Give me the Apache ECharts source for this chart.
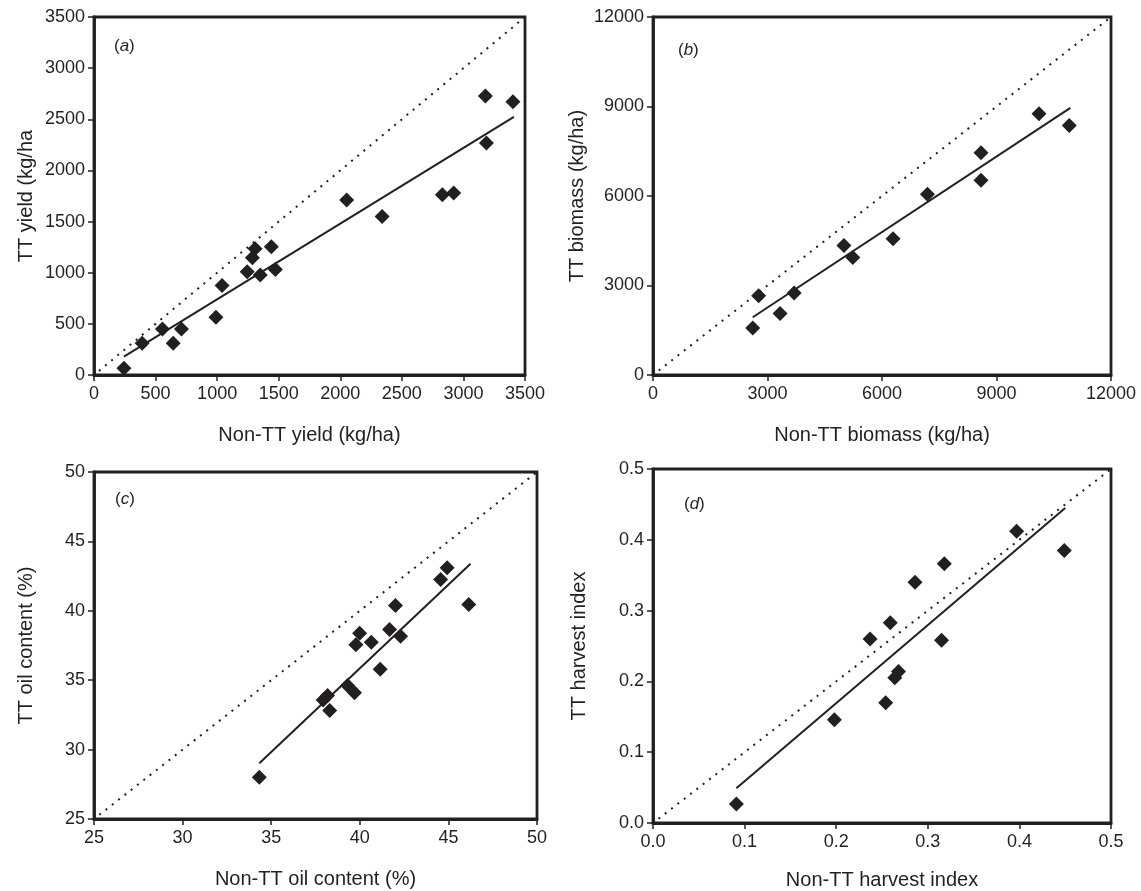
<!DOCTYPE html>
<html><head><meta charset="utf-8">
<script src="https://cdn.jsdelivr.net/npm/echarts@6/dist/echarts.min.js"></script>
<style>html,body{margin:0;padding:0;background:#fff}#c{width:1141px;height:891px}</style>
</head><body><div id="c"></div>
<script>
// Panel (a) yield (kg/ha)
const yieldNonTT = [243, 391, 556, 643, 710, 990, 1040, 1244, 1286, 1308, 1350, 1440, 1473, 2052, 2340, 2829, 2921, 3178, 3187, 3402];
const yieldTT    = [66, 311, 449, 311, 449, 564, 875, 1009, 1147, 1235, 977, 1255, 1032, 1711, 1550, 1763, 1779, 2727, 2268, 2671];
const yieldFit   = [[243, 180], [3410, 2523]];
const yieldOneToOne = [[40, 40], [3500, 3500]];
const yieldTicks = [0, 500, 1000, 1500, 2000, 2500, 3000, 3500];

// Panel (b) biomass (kg/ha)
const bioNonTT = [2613, 2768, 3329, 3697, 5003, 5235, 6290, 7190, 8594, 8594, 10113, 10906];
const bioTT    = [1579, 2658, 2058, 2747, 4337, 3937, 4571, 6061, 7451, 6528, 8753, 8363];
const bioFit   = [[2613, 1935], [10935, 8953]];
const bioOneToOne = [[150, 150], [12000, 12000]];
const bioTicks = [0, 3000, 6000, 9000, 12000];

// Panel (c) oil content (%)
const oilNonTT = [34.33, 37.93, 38.18, 38.30, 39.31, 39.70, 39.78, 39.99, 40.65, 41.15, 41.68, 42.01, 42.30, 44.56, 44.93, 46.15];
const oilTT    = [28.0, 33.58, 33.89, 32.81, 34.62, 34.09, 37.55, 38.39, 37.74, 35.79, 38.65, 40.38, 38.17, 42.26, 43.10, 40.46];
const oilFit   = [[34.33, 29.01], [46.25, 43.39]];
const oilOneToOne = [[25.3, 25.3], [50, 50]];
const oilTicks = [25, 30, 35, 40, 45, 50];

// Panel (d) harvest index
const hiNonTT = [0.091, 0.198, 0.237, 0.254, 0.259, 0.264, 0.268, 0.286, 0.315, 0.318, 0.397, 0.449];
const hiTT    = [0.027, 0.146, 0.260, 0.170, 0.283, 0.205, 0.214, 0.340, 0.258, 0.366, 0.412, 0.385];
const hiFit   = [[0.091, 0.049], [0.450, 0.445]];
const hiOneToOne = [[0.006, 0.006], [0.5, 0.5]];
const hiTicks = [0.0, 0.1, 0.2, 0.3, 0.4, 0.5];

const panelLabels = ['a', 'b', 'c', 'd'];
const xTitles = ['Non-TT yield (kg/ha)', 'Non-TT biomass (kg/ha)', 'Non-TT oil content (%)', 'Non-TT harvest index'];
const yTitles = ['TT yield (kg/ha', 'TT biomass (kg/ha)', 'TT oil content (%)', 'TT harvest index'];

const INK = '#231f20';
const FONT = '"Liberation Sans", Arial, Helvetica, sans-serif';

const grids = [
  {left: 94, top: 17, width: 431, height: 358},
  {left: 653, top: 17, width: 458, height: 358},
  {left: 94, top: 472, width: 443, height: 347},
  {left: 653, top: 469, width: 458, height: 354}
];
const ticksets = [yieldTicks, bioTicks, oilTicks, hiTicks];
const yGaps = [58, 66, 58, 64];
const xGaps = [50, 50, 50, 47];
const decimals = [0, 0, 0, 1];

const pairs = (xs, ys) => xs.map((x, i) => [x, ys[i]]);
const scatterData = [pairs(yieldNonTT, yieldTT), pairs(bioNonTT, bioTT), pairs(oilNonTT, oilTT), pairs(hiNonTT, hiTT)];
const fits = [yieldFit, bioFit, oilFit, hiFit];
const ones = [yieldOneToOne, bioOneToOne, oilOneToOne, hiOneToOne];

function axis(i, isX) {
  const t = ticksets[i];
  return {
    type: 'value', gridIndex: i,
    min: t[0], max: t[t.length - 1], interval: +(t[1] - t[0]).toFixed(4),
    name: isX ? xTitles[i] : yTitles[i],
    nameLocation: 'middle',
    nameGap: isX ? xGaps[i] : yGaps[i],
    nameTextStyle: {fontFamily: FONT, fontSize: 20, color: INK},
    axisLine: {show: true, onZero: false, lineStyle: {color: INK, width: 2.8}},
    axisTick: {show: true, inside: false, length: 6, lineStyle: {color: INK, width: 1.5}},
    axisLabel: {fontFamily: FONT, fontSize: 18, color: INK, margin: isX ? 10 : 9,
      formatter: v => Number(v).toFixed(decimals[i])},
    splitLine: {show: false}
  };
}

const series = [];
for (let i = 0; i < 4; i++) {
  series.push({type: 'line', xAxisIndex: i, yAxisIndex: i, data: ones[i], symbol: 'none', silent: true,
    lineStyle: {color: INK, width: 2, type: [2, 6]}, z: 1});
  series.push({type: 'line', xAxisIndex: i, yAxisIndex: i, data: fits[i], symbol: 'none', silent: true,
    lineStyle: {color: INK, width: 2}, z: 2});
  series.push({type: 'scatter', xAxisIndex: i, yAxisIndex: i, data: scatterData[i], symbol: 'diamond',
    symbolSize: 15, itemStyle: {color: INK, opacity: 1}, z: 3});
}

const labelPos = [[114, 38], [678, 42], [115, 491], [684, 496]];
const graphic = panelLabels.map((l, i) => ({
  type: 'text', left: labelPos[i][0], top: labelPos[i][1],
  style: {text: '{n|(}{it|' + l + '}{n|)}', fill: INK,
    rich: {n: {fontFamily: FONT, fontSize: 17, color: INK}, it: {fontFamily: FONT, fontSize: 17, fontStyle: 'italic', color: INK}}}
}));

const chart = echarts.init(document.getElementById('c'), null, {renderer: 'canvas'});
chart.setOption({
  animation: false,
  backgroundColor: '#fff',
  grid: grids.map(g => Object.assign({show: true, borderColor: INK, borderWidth: 2.8, backgroundColor: 'transparent'}, g)),
  xAxis: [0, 1, 2, 3].map(i => axis(i, true)),
  yAxis: [0, 1, 2, 3].map(i => axis(i, false)),
  series: series,
  graphic: graphic
});
</script></body></html>
